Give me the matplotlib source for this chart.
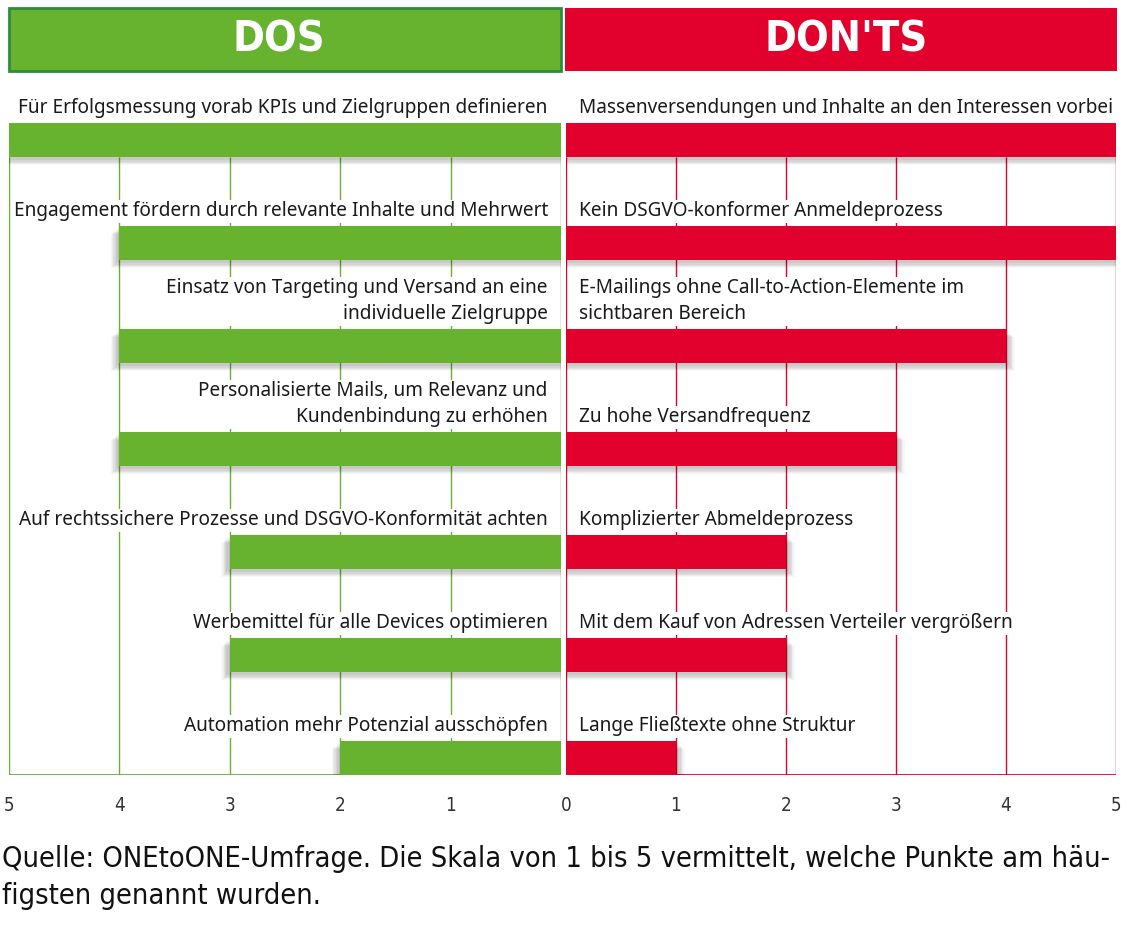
import numpy as np
import matplotlib.pyplot as plt
from matplotlib.patches import Rectangle

# data
dos_labels = [
    "Für Erfolgsmessung vorab KPIs und Zielgruppen definieren",
    "Engagement fördern durch relevante Inhalte und Mehrwert",
    "Einsatz von Targeting und Versand an eine\nindividuelle Zielgruppe",
    "Personalisierte Mails, um Relevanz und\nKundenbindung zu erhöhen",
    "Auf rechtssichere Prozesse und DSGVO-Konformität achten",
    "Werbemittel für alle Devices optimieren",
    "Automation mehr Potenzial ausschöpfen",
]
dos_values = [5, 4, 4, 4, 3, 3, 2]

donts_labels = [
    "Massenversendungen und Inhalte an den Interessen vorbei",
    "Kein DSGVO-konformer Anmeldeprozess",
    "E-Mailings ohne Call-to-Action-Elemente im\nsichtbaren Bereich",
    "Zu hohe Versandfrequenz",
    "Komplizierter Abmeldeprozess",
    "Mit dem Kauf von Adressen Verteiler vergrößern",
    "Lange Fließtexte ohne Struktur",
]
donts_values = [5, 5, 4, 3, 2, 2, 1]

ticks = [0, 1, 2, 3, 4, 5]
source = ("Quelle: ONEtoONE-Umfrage. Die Skala von 1 bis 5 vermittelt, welche Punkte am häu-\n"
          "figsten genannt wurden.")

GREEN = '#67b22f'
GREEN_DARK = '#2f8c3c'
RED = '#e2002c'
LABEL_FONT = 'Noto Sans'

W, H = 1127, 927
fig = plt.figure(figsize=(W / 100, H / 100), dpi=100)

y = -np.arange(len(dos_values))
bar_h = 0.33
ybot = -6.165
ytop = 0.505


def panel(x0, x1, values, labels, color, left):
    ax = fig.add_axes([x0 / W, (H - 775) / H, (x1 - x0) / W, (775 - 88) / H])
    ax.set_ylim(ybot, ytop)
    if left:
        ax.set_xlim(5, 0)
    else:
        ax.set_xlim(0, 5)
    for s in ax.spines.values():
        s.set_visible(False)
    ax.set_yticks([])
    ax.set_xticks(ticks)
    ax.set_xticklabels(['' if (left and t == 0) else str(t) for t in ticks], fontsize=13.5,
                       color='#333333', family='DejaVu Sans', stretch='condensed')
    ax.tick_params(axis='x', length=0, pad=15)
    # grid lines
    ax.vlines(ticks, ybot, -bar_h / 2, color=color, lw=1.0, zorder=1)
    ax.hlines(ybot, 0, 5, color=color, lw=1.3, zorder=1)
    # soft shadow under the bars
    for k, a in enumerate([0.05, 0.05, 0.05, 0.04, 0.03]):
        off = 0.012 * (k + 1)
        ax.barh(y - off - 0.02, np.array(values) + 0.03 + 0.012 * k, height=bar_h, left=0,
                color='black', alpha=a, lw=0, zorder=2)
    ax.barh(y, values, height=bar_h, color=color, lw=0, zorder=3)
    for yi, lab in zip(y, labels):
        ax.text(0.12, yi + bar_h / 2 + 0.045, lab, ha='right' if left else 'left', va='bottom',
                fontsize=13.7, family=LABEL_FONT, color='#1a1a1a', linespacing=1.4, zorder=4,
                bbox=dict(facecolor='white', edgecolor='none', pad=1.0))
    return ax


ax_l = panel(9, 561, dos_values, dos_labels, GREEN, True)
ax_r = panel(566, 1116, donts_values, donts_labels, RED, False)

# header boxes
fig.add_artist(Rectangle((9 / W, (H - 71) / H), 552 / W, 63 / H, transform=fig.transFigure,
                         facecolor=GREEN, edgecolor=GREEN_DARK, lw=2))
fig.add_artist(Rectangle((565 / W, (H - 71) / H), 552 / W, 63 / H, transform=fig.transFigure,
                         facecolor=RED, edgecolor=RED, lw=0))
fig.text(279 / W, (H - 40) / H, 'DOS', ha='center', va='center', color='white',
         fontsize=31, fontweight='bold', family='DejaVu Sans', stretch='condensed')
fig.text(846 / W, (H - 40) / H, "DON'TS", ha='center', va='center', color='white',
         fontsize=31, fontweight='bold', family='DejaVu Sans', stretch='condensed')

fig.text(2 / W, (H - 910) / H, source, ha='left', va='bottom', fontsize=20.8,
         family='DejaVu Sans', stretch='condensed', color='#111111', linespacing=1.4)

fig.savefig('out.png', dpi=100, facecolor='white')
